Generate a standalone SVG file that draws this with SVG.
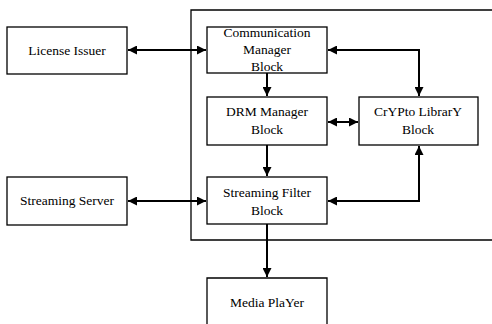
<svg xmlns="http://www.w3.org/2000/svg" width="492" height="324" viewBox="0 0 492 324">
<style>
.box{fill:#fff;stroke:#000;stroke-width:1.3}
.t{font-family:"Liberation Serif","Times New Roman",serif;font-size:13.5px;fill:#000;text-anchor:middle}
.c{fill:none;stroke:#000;stroke-width:2}
</style>
<defs>
<marker id="ah" viewBox="0 0 10 10" refX="10" refY="5" markerWidth="4.5" markerHeight="4.5" orient="auto-start-reverse" markerUnits="strokeWidth">
<path d="M0,0 L10,5 L0,10 Z" fill="#000"/>
</marker>
</defs>
<rect width="492" height="324" fill="#fff"/>
<g id="container">
<path d="M492,10 H191 V240 H492" fill="none" stroke="#000" stroke-width="1.3"/>
</g>
<g id="license-issuer">
<rect class="box" x="7" y="27" width="120" height="47"/>
<text class="t" x="67" y="55">License Issuer</text>
</g>
<g id="communication-manager">
<rect class="box" x="207" y="27" width="120" height="46"/>
<text class="t" x="267" y="37">Communication</text>
<text class="t" x="267" y="54">Manager</text>
<text class="t" x="267" y="71">Block</text>
</g>
<g id="drm-manager">
<rect class="box" x="207" y="97" width="120" height="48"/>
<text class="t" x="267" y="116">DRM Manager</text>
<text class="t" x="267" y="134">Block</text>
</g>
<g id="crypto-library">
<rect class="box" x="359" y="97" width="119" height="48"/>
<text class="t" x="418" y="116">CrYPto LibrarY</text>
<text class="t" x="418" y="134">Block</text>
</g>
<g id="streaming-server">
<rect class="box" x="7" y="177" width="120" height="48"/>
<text class="t" x="67" y="205">Streaming Server</text>
</g>
<g id="streaming-filter">
<rect class="box" x="207" y="177" width="120" height="47"/>
<text class="t" x="267" y="197">Streaming Filter</text>
<text class="t" x="267" y="215">Block</text>
</g>
<g id="media-player">
<path class="box" d="M207,326 V278 H327 V326"/>
<text class="t" x="267" y="307">Media PlaYer</text>
</g>
<g id="connectors">
<line class="c" x1="128" y1="50" x2="206" y2="50" marker-start="url(#ah)" marker-end="url(#ah)"/>
<polyline class="c" points="328,50 419,50 419,96" marker-start="url(#ah)" marker-end="url(#ah)"/>
<line class="c" x1="267" y1="73" x2="267" y2="96" marker-end="url(#ah)"/>
<line class="c" x1="328" y1="122" x2="358" y2="122" marker-start="url(#ah)" marker-end="url(#ah)"/>
<line class="c" x1="267" y1="145" x2="267" y2="176" marker-end="url(#ah)"/>
<polyline class="c" points="328,201 419,201 419,146" marker-start="url(#ah)" marker-end="url(#ah)"/>
<line class="c" x1="128" y1="201" x2="206" y2="201" marker-start="url(#ah)" marker-end="url(#ah)"/>
<line class="c" x1="267" y1="224" x2="267" y2="277" marker-end="url(#ah)"/>
</g>
</svg>
